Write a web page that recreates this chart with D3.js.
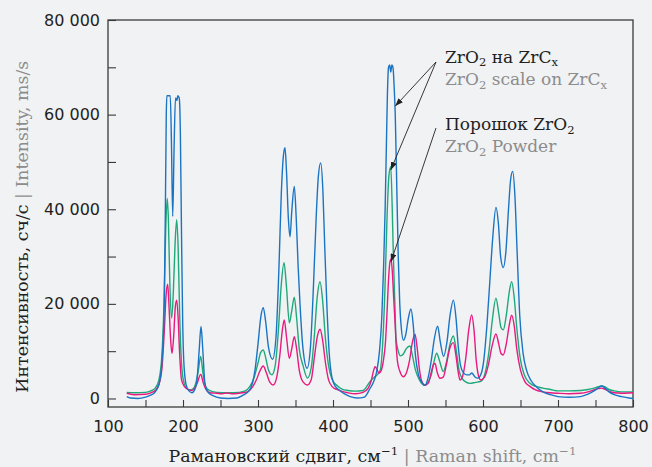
<!DOCTYPE html>
<html>
<head>
<meta charset="utf-8">
<script src="https://cdn.jsdelivr.net/npm/d3@7"></script>
<style>
  body { margin: 0; background: #f1f2f4; }
  svg { display: block; }
</style>
</head>
<body>
<div id="chart"></div>
<script>
// Raman spectra, [shift cm-1, counts/s]
var scaleOnZrC = [
  [125,400],[130,100],[140,0],[150,300],[157,700],[163,1400],[168,3000],[172,8000],[175,20000],
  [176.5,40000],[177.7,60000],[178.5,64000],[183,64000],[184.5,55000],[186.3,38500],[188,52000],
  [190,63500],[192,63000],[193,64000],[195,63500],[196.5,56000],[198,35000],[199.5,17000],[201,8000],
  [204,3000],[208,1600],[212,1200],[216,2000],[219,4500],[221.5,10000],[224,15200],[226.5,10000],
  [229,3500],[233,1400],[240,600],[250,100],[260,0],[272,100],[280,700],[289,1800],[296,6000],
  [300,11500],[304,17500],[307,19200],[310,16500],[314,10800],[319.5,8300],[324,13000],[328,28000],
  [331,43000],[334,51500],[336,53000],[338,48000],[340.5,38000],[342.7,34200],[345,39500],[348.4,44800],
  [351,38000],[353.5,28000],[356,20000],[360,10500],[365.5,6400],[370,11000],[374,24000],[377.5,38000],
  [380.5,47000],[383.6,49800],[386.5,44000],[389,32000],[392,19000],[395,9500],[398.5,4500],[403,2600],
  [409,1700],[416,900],[423,400],[432,100],[442,300],[449,2000],[454,3500],[458,5500],[462,10000],
  [465,17000],[467.5,28000],[469.5,40000],[471,52000],[472.5,64000],[474,70000],[475.5,70500],
  [477,69000],[478.5,70500],[480,70000],[481.5,66000],[483,60000],[485,45000],[487,30000],[489,20000],
  [491,15000],[494,12300],[497,13500],[500.5,17000],[504,18900],[507,15500],[510,9000],[514,5000],
  [518,3500],[522.5,2800],[527,4500],[531,8000],[535,12500],[539.5,15300],[543,12000],[547.5,8900],
  [552,12000],[556,17500],[560.5,20800],[564,17000],[567,11000],[570,7000],[574,5400],[578,5000],
  [582,5000],[585,5400],[589,4600],[593,4300],[597,5000],[601,8000],[605,15000],[609,24500],[613,34000],
  [617.3,40400],[620.5,37000],[623.5,30000],[627,27700],[630.5,31000],[634,40000],[637,46500],
  [639.6,48000],[642.5,43000],[645.5,31000],[649,17500],[653.5,9500],[658,6000],[664,3800],[671,2500],
  [680,1400],[690,800],[700,400],[715,250],[730,400],[740,900],[748,1600],[754,2300],[758,2650],
  [762,2300],[768,1400],[775,800],[785,400],[795,100],[800,0]
];

var scaleOnZrC2 = [
  [125,1300],[135,1200],[150,1300],[157,1600],[163,2200],[168,4000],[172,9500],[175,22000],[177,36000],
  [179,42300],[180.5,38000],[182.5,24000],[184.9,17000],[187,22000],[189.5,33000],[191.6,37800],
  [193.5,32000],[195.5,18000],[198,7500],[201,3500],[205,2100],[209,1800],[213,2000],[217,3200],
  [220.5,6000],[223.6,8900],[226.5,5500],[230,2500],[235,1700],[245,1300],[260,1200],[275,1300],
  [283,1600],[289,2500],[295,4500],[300,7500],[303.5,9700],[307,10250],[310,8800],[314,6000],
  [318.5,5000],[323,7000],[327,14000],[331,24000],[334.7,28700],[338,23500],[341.8,16000],[345,18500],
  [348.4,21400],[351.5,17000],[355,10500],[360,7000],[366,4300],[371,6500],[375,13000],[379,21500],
  [382.7,24700],[386,21000],[390,12500],[394,7000],[399,4000],[405,2800],[412,2000],[420,1700],
  [430,1550],[440,1700],[449,3500],[455,4500],[459,5000],[463,6000],[466,11000],[469.3,23300],
  [472,38000],[474.5,47000],[477,49000],[479,40000],[480.5,30000],[482.5,20000],[484,12700],[487,10000],
  [490,9000],[493.8,9400],[497.5,10500],[502.7,11100],[506,9000],[510,6000],[515,4000],[522.5,2800],
  [527,3500],[531,5000],[535,8000],[538.2,9550],[542,8000],[547,5700],[551,7500],[556,11500],
  [560.4,13200],[564,10500],[568,6000],[572,4300],[577,3500],[582.7,3200],[590,3400],[597,3600],
  [603,5500],[608,10000],[612,16000],[617.3,21200],[621,18000],[624,15000],[627,14500],[631,17500],
  [635,22500],[638.2,24700],[641.5,21500],[645,15000],[649.3,8800],[655,5000],[662.7,3200],[670,2600],
  [680,2200],[690,1900],[700,1600],[715,1600],[730,1700],[740,1900],[748,2200],[754,2500],[758,2650],
  [762,2500],[768,1900],[775,1600],[785,1400],[800,1400]
];

var powder = [
  [125,1100],[135,800],[150,900],[157,1200],[163,1700],[168,3000],[172,6500],[175,14000],[177.5,22000],
  [179.6,24150],[181.5,19000],[183.5,12500],[185.3,9500],[187.5,13000],[189.8,19500],[191.6,20800],
  [193.5,17000],[195.5,9500],[198,4000],[202,2500],[206,2000],[211,1700],[215,2000],[219,3300],
  [223.6,5100],[227,3300],[231,1800],[236,1200],[245,1100],[252,1000],[258,1150],[265,1000],[272,1050],
  [280,1200],[287,1500],[293,2500],[298,4000],[302.5,5800],[307,6870],[311,5500],[315.5,3500],
  [320.4,2850],[325,4500],[329,9000],[332.5,14500],[335,16600],[338,13000],[341.8,8500],[345,10500],
  [348.4,13070],[351.5,10500],[355,6000],[360,3500],[366,2850],[371,4000],[375,8500],[379,13000],
  [382.7,14630],[386,12500],[390,7500],[394,4000],[399,2500],[405,1900],[412,1500],[420,1200],
  [430,1000],[440,1300],[447,2200],[451,3800],[454,5800],[456,6700],[458.5,6200],[461.3,5300],
  [464,5800],[467,7800],[470,12000],[472,18000],[474,25000],[476,29000],[477.3,29500],[479,27000],
  [481,21000],[482.7,16200],[484.5,10500],[486,7800],[489,5800],[493.8,4600],[498,5500],[502,8000],
  [506,12000],[509.3,13570],[512,11000],[515,6500],[518,3800],[522.5,2800],[527,3200],[531,5500],
  [534,7200],[536,7400],[539,5500],[542.7,4270],[547,4500],[551,7000],[555.5,10500],[560.4,11800],
  [564,9000],[567,5500],[569.3,3900],[573,4800],[577,8500],[581,14500],[584.9,17650],[588,14500],
  [591,8000],[594,4800],[597,3900],[602,4500],[607,7000],[612,11000],[617.3,13640],[621,11500],
  [624,9500],[627,9200],[631,11500],[635,15500],[638.2,17590],[641.5,15500],[645,10500],[650,6000],
  [656,3500],[663,2500],[670,1800],[680,1400],[690,1200],[700,1100],[715,1000],[730,1100],[740,1400],
  [748,1800],[754,2100],[758,2200],[762,2000],[768,1500],[775,1200],[785,1100],[800,1200]
];

var xTicks = d3.range(100, 801, 50);
var yTicks = d3.range(0, 80001, 10000);

var width = 652;
var height = 467;
var margin = {top: 20, right: 19, bottom: 60, left: 108};

var serif = "'DejaVu Serif', 'Liberation Serif', serif";
var sans = "'DejaVu Sans', 'Noto Sans', sans-serif";
var dark = "#231f20";
var grey = "#8c8c8c";

var x = d3.scaleLinear()
    .domain([100, 800])
    .range([margin.left, width - margin.right]);

var y = d3.scaleLinear()
    .domain([-1800, 80000])
    .range([height - margin.bottom, margin.top]);

var svg = d3.select("#chart")
    .append("svg")
    .attr("width", width)
    .attr("height", height);

svg.append("rect")
    .attr("width", width)
    .attr("height", height)
    .attr("fill", "#f1f2f4");

var fmt = d3.formatLocale({thousands: "\u00a0", grouping: [3], decimal: ","}).format(",");

// axes
var gx = svg.append("g")
    .attr("transform", "translate(0," + (height - margin.bottom) + ")")
    .call(d3.axisBottom(x)
        .tickValues(xTicks)
        .tickSizeInner(-7)
        .tickSizeOuter(0)
        .tickPadding(14)
        .tickFormat(function(d) { return d % 100 === 0 ? d : ""; }));

var gy = svg.append("g")
    .attr("transform", "translate(" + margin.left + ",0)")
    .call(d3.axisLeft(y)
        .tickValues(yTicks)
        .tickSizeInner(-8)
        .tickSizeOuter(0)
        .tickPadding(8)
        .tickFormat(function(d) { return d % 20000 === 0 ? fmt(d) : ""; }));

[gx, gy].forEach(function(g) {
  g.select(".domain").remove();
  g.selectAll("line").attr("stroke", "#3a3a3a").attr("stroke-width", 1.1);
  g.selectAll("text")
      .attr("fill", dark)
      .style("font-family", sans)
      .style("font-size", "16px");
  // drop empty labels of the minor ticks
  g.selectAll("text").filter(function() { return this.textContent === ""; }).remove();
});

// frame
svg.append("rect")
    .attr("x", x(100))
    .attr("y", y(80000))
    .attr("width", x(800) - x(100))
    .attr("height", y(-1800) - y(80000))
    .attr("fill", "none")
    .attr("stroke", "#3a3a3a")
    .attr("stroke-width", 1.3);

// spectra
var line = d3.line()
    .x(function(d) { return x(d[0]); })
    .y(function(d) { return y(d[1]); })
    .curve(d3.curveMonotoneX);

var series = [
  {data: scaleOnZrC2, color: "#1fa97a"},
  {data: powder, color: "#e8197f"},
  {data: scaleOnZrC, color: "#1b74c3"}
];

svg.selectAll(".spectrum")
    .data(series)
    .enter().append("path")
    .attr("class", "spectrum")
    .attr("d", function(d) { return line(d.data); })
    .attr("fill", "none")
    .attr("stroke", function(d) { return d.color; })
    .attr("stroke-width", 1.4)
    .attr("stroke-linejoin", "round");

// text with super/subscripts; shifts in px so the baseline comes back exactly
function rich(sel, parts, size) {
  parts.forEach(function(p) {
    var t = sel.append("tspan").attr("fill", p.c).text(p.t);
    if (p.sup) t.attr("dy", -size * 0.4).style("font-size", (size * 0.68) + "px");
    if (p.sub) t.attr("dy", size * 0.22).style("font-size", (size * 0.68) + "px");
    if (p.back) t.attr("dy", p.back * size);
  });
}

var titleSize = 17.4;

svg.append("text")
    .attr("x", (x(100) + x(800)) / 2 + 2)
    .attr("y", 462)
    .attr("text-anchor", "middle")
    .style("font-family", serif)
    .style("font-size", titleSize + "px")
    .call(rich, [
      {t: "Рамановский сдвиг, см", c: dark},
      {t: "−1", c: dark, sup: true},
      {t: " | Raman shift, cm", c: grey, back: 0.4},
      {t: "−1", c: grey, sup: true}
    ], titleSize);

svg.append("text")
    .attr("transform", "translate(28," + (y(38000) + 8) + ") rotate(-90)")
    .attr("text-anchor", "middle")
    .style("font-family", serif)
    .style("font-size", titleSize + "px")
    .call(rich, [
      {t: "Интенсивность, сч/с", c: dark},
      {t: " | Intensity, ms/s", c: grey}
    ], titleSize);

// legend
var legendSize = 17;
var legend = [
  {y: 62.5, c: dark, parts: [{t: "ZrO"}, {t: "2", sub: true}, {t: " на ZrC", back: -0.22}, {t: "x", sub: true}]},
  {y: 85, c: grey, parts: [{t: "ZrO"}, {t: "2", sub: true}, {t: " scale on ZrC", back: -0.22}, {t: "x", sub: true}]},
  {y: 130, c: dark, parts: [{t: "Порошок ZrO"}, {t: "2", sub: true}]},
  {y: 152, c: grey, parts: [{t: "ZrO"}, {t: "2", sub: true}, {t: " Powder", back: -0.22}]}
];

legend.forEach(function(l) {
  svg.append("text")
      .attr("x", 445)
      .attr("y", l.y)
      .style("font-family", serif)
      .style("font-size", legendSize + "px")
      .call(rich, l.parts.map(function(p) { return Object.assign({c: l.c}, p); }), legendSize);
});

// arrows
svg.append("defs").append("marker")
    .attr("id", "head")
    .attr("viewBox", "0 -3 8 6")
    .attr("refX", 8)
    .attr("refY", 0)
    .attr("markerWidth", 8)
    .attr("markerHeight", 6)
    .attr("markerUnits", "userSpaceOnUse")
    .attr("orient", "auto")
    .append("path")
    .attr("d", "M0,-3L8,0L0,3Z")
    .attr("fill", "#222");

var arrows = [
  {from: [436, 62], to: [483, 61800]},
  {from: [436, 62], to: [477, 48300]},
  {from: [436, 128], to: [477.3, 28900]}
];

svg.selectAll(".arrow")
    .data(arrows)
    .enter().append("line")
    .attr("class", "arrow")
    .attr("x1", function(d) { return d.from[0]; })
    .attr("y1", function(d) { return d.from[1]; })
    .attr("x2", function(d) { return x(d.to[0]); })
    .attr("y2", function(d) { return y(d.to[1]); })
    .attr("stroke", "#222")
    .attr("stroke-width", 0.9)
    .attr("marker-end", "url(#head)");
</script>
</body>
</html>
